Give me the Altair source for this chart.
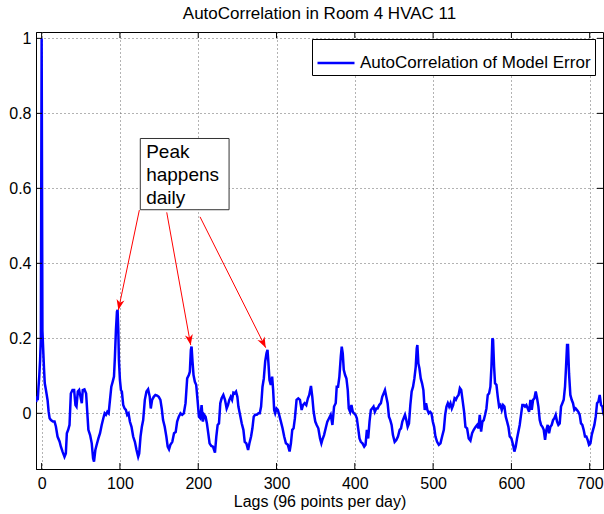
import math
import altair as alt
import pandas as pd

FONT = "Liberation Sans"

# ---- data ----
lags = [
    -7, -6, -5, -4, -3, -2, -1, 0, 1, 2, 3, 4, 5.5, 7.6, 8.9, 10.2, 11.9, 14.4, 16.5, 18.2,
    20.3, 22.9, 24.6, 26.7, 29.2, 30.9, 32.2, 33.9, 35.6, 37.3, 39.4, 41.5, 43.2, 44.5, 46.2,
    47.9, 49.6, 51.3, 52.5, 54.7, 56.8, 58.1, 59.7, 61.9, 64.0, 65.7, 66.9, 68.6, 70.3, 72.5,
    74.6, 76.7, 78.8, 80.5, 82.2, 83.9, 85.6, 87.3, 89.0, 90.7, 92.4, 93.6, 94.9, 96.2, 97.0,
    97.9, 98.7, 100.0, 101.3, 102.5, 104.2, 105.9, 107.6, 109.3, 111.0, 112.7, 114.8, 116.9,
    119.1, 121.2, 123.3, 124.6, 126.3, 128.0, 129.7, 131.8, 133.9, 136.0, 138.1, 139.4, 141.1,
    143.2, 145.3, 147.5, 149.6, 151.7, 153.4, 155.1, 157.2, 159.3, 161.0, 162.7, 164.4, 166.9,
    169.1, 171.2, 173.1, 175.2,
    177.4, 179.5, 181.6, 183.8, 185.9, 188.0, 189.3, 190.6, 191.5, 192.7, 194.0, 195.7, 197.4,
    199.1, 200.9, 202.6, 204.3, 206.0, 207.7, 209.4, 211.1, 212.8, 214.5, 216.7, 218.8, 221.4,
    223.1, 224.8, 226.5, 228.2, 229.9, 232.1, 234.2, 236.3, 238.0, 239.7, 241.5, 243.2, 244.9,
    246.6, 248.3, 250.0, 251.3, 253.4, 255.6, 257.7, 259.4, 261.5, 263.7, 265.4, 267.5, 269.2,
    270.9, 272.6, 274.8, 276.9, 278.6, 280.3, 282.1, 283.8, 285.5, 287.2, 288.5, 289.7, 291.0,
    292.7, 294.4, 295.7, 297.0, 298.3, 300.0, 301.7, 303.4, 305.6, 307.7, 309.8, 312.0, 314.5,
    316.7, 318.4, 320.1, 321.8, 323.5, 325.6, 327.8, 329.9, 332.1, 333.8, 335.9, 338.0, 340.1,
    341.8, 344.0, 345.7, 347.4, 349.5, 351.3, 353.4,
    355.6, 357.3, 358.5, 360.7, 362.8, 364.9, 367.1, 369.2, 371.4, 373.5, 375.6, 376.9, 378.6,
    380.3, 382.1, 383.3, 384.6, 385.9, 387.6, 389.3, 391.0, 392.3, 394.0, 395.7, 397.4, 399.1,
    400.9, 402.6, 404.3, 406.0, 407.7, 409.8, 412.0, 413.7, 415.4, 417.1, 418.8, 420.5, 422.2,
    423.9, 425.6, 427.4, 429.1, 431.2, 433.3, 435.0, 436.8, 438.5, 440.2, 441.9, 443.6, 445.3,
    447.0, 448.7, 450.9, 453.0, 455.1, 457.3, 459.0, 460.7, 462.4, 464.1, 465.8, 467.5, 469.2,
    470.9, 472.6, 474.4, 476.1, 477.8, 479.1, 479.9, 481.2, 482.5, 484.2, 485.9, 487.6, 489.3,
    491.0, 492.7, 494.4, 496.2, 497.9, 499.6, 501.3, 503.0, 505.1, 507.3, 509.4, 511.5, 513.7,
    515.4, 517.1, 518.8, 520.5, 522.2, 523.9, 525.6, 527.4, 529.1, 530.8, 532.5, 534.2, 535.9,
    537.6, 539.6,
    541.3, 543.4, 545.5, 547.7, 549.8, 551.9, 554.0, 556.2, 557.9, 559.6, 561.3, 563.0, 564.7,
    566.4, 568.1, 569.8, 571.5, 573.2, 574.5, 575.7, 576.6, 577.9, 579.1, 580.9, 582.6, 584.3,
    586.0, 587.7, 589.4, 591.1, 592.8, 594.5, 596.2, 597.9, 600.0, 602.1, 603.8, 605.5, 607.2,
    608.9, 610.6, 612.3, 614.0, 615.7, 617.4, 619.1, 620.9, 622.6, 624.3, 626.0, 627.7, 629.4,
    631.1, 632.8, 634.5, 636.2, 637.9, 639.6, 641.3, 643.0, 644.7, 646.4, 648.1, 649.8, 651.5,
    653.2, 654.9, 656.6, 658.3, 660.0, 661.7, 663.4, 665.1, 666.8, 668.5, 669.8, 671.1, 672.3,
    673.6, 675.3, 677.0, 678.7, 680.4, 682.1, 683.8, 685.5, 687.2, 688.9, 690.6, 692.3, 694.0,
    695.7, 697.4, 699.1, 700.9, 702.6, 704.3, 706.0, 707.7, 709.4, 711.1, 712.8, 714.5, 716.2,
    717.4, 719.0,
]
acf = [
    0.03, 0.045, 0.035, 0.07, 0.1, 0.14, 0.2, 1.0, 0.22, 0.17, 0.12, 0.08, 0.062, 0.035, 0.005,
    -0.013, -0.018, -0.022, -0.022, -0.035, -0.062, -0.075, -0.089, -0.102, -0.116, -0.107,
    -0.053, -0.044, -0.031, 0.053, 0.062, 0.062, 0.022, 0.018, 0.058, 0.062, 0.044, 0.027,
    0.062, 0.064, 0.053, 0.009, -0.044, -0.058, -0.08, -0.12, -0.129, -0.098, -0.084, -0.067,
    -0.053, -0.031, -0.013, 0.0, -0.004, 0.004, 0.0, 0.036, 0.071, 0.084, 0.098, 0.151, 0.222,
    0.271, 0.276, 0.222, 0.142, 0.089, 0.062, 0.058, 0.022, 0.013, 0.009, -0.004, 0.0, -0.022,
    -0.036, -0.062, -0.076, -0.098, -0.116, -0.107, -0.062, -0.036, -0.018, 0.036, 0.058,
    0.064, 0.044, 0.013, 0.036, 0.044, 0.049, 0.047, 0.044, 0.036, 0.013, -0.018, -0.036,
    -0.062, -0.089, -0.096, -0.084, -0.076, -0.053, -0.05, -0.022, -0.009,
    0.0, -0.004, 0.0, 0.027, 0.093, 0.102, 0.111, 0.169, 0.178, 0.138, 0.102, 0.084, 0.076,
    0.036, -0.009, -0.013, 0.022, -0.022, -0.004, -0.009, -0.027, -0.053, -0.08, -0.087,
    -0.089, -0.105, -0.062, -0.031, -0.027, 0.027, 0.04, 0.049, 0.036, 0.013, 0.022, 0.036,
    0.044, 0.036, 0.055, 0.053, 0.058, 0.044, 0.018, -0.004, -0.027, -0.044, -0.076, -0.08,
    -0.098, -0.08, -0.062, -0.04, -0.009, -0.004, -0.004, 0.0, 0.0, 0.018, 0.071, 0.093,
    0.138, 0.16, 0.169, 0.133, 0.089, 0.076, 0.098, 0.062, 0.009, 0.0, 0.013, 0.009, -0.004,
    -0.022, -0.04, -0.062, -0.08, -0.084, -0.102, -0.08, -0.044, -0.04, -0.013, 0.036, 0.04,
    0.036, 0.009, 0.022, 0.027, 0.022, 0.04, 0.049, 0.073, 0.044, 0.004, -0.022, -0.031, -0.04,
    -0.067, -0.08, -0.071, -0.058, -0.04, -0.022, -0.013, -0.004, -0.031, 0.018, 0.027, 0.071,
    0.071, 0.098, 0.151, 0.178, 0.16, 0.116, 0.102, 0.093, 0.062, 0.013, 0.004, 0.022, 0.004,
    0.0, -0.004, -0.013, -0.04, -0.067, -0.076, -0.08, -0.089, -0.084, -0.044, -0.067, -0.022,
    0.009, 0.013, 0.018, 0.004, 0.013, 0.013, 0.022, 0.027, 0.044, 0.053, 0.062, 0.044, 0.027,
    -0.009, -0.018, -0.031, -0.058, -0.076, -0.071, -0.062, -0.044, -0.04, -0.022, -0.013,
    -0.004, -0.018, -0.036, -0.027, 0.022, 0.058, 0.071, 0.093, 0.124, 0.173, 0.182, 0.133,
    0.12, 0.093, 0.08, 0.062, 0.009, 0.027, 0.009, 0.0, 0.004, 0.0, -0.022, -0.036, -0.062,
    -0.076, -0.084, -0.08, -0.062, -0.044, -0.004, 0.018, 0.027, 0.018, 0.027, 0.013, 0.022,
    0.04, 0.036, 0.044, 0.049, 0.067, 0.062, 0.036, 0.004,
    -0.036, -0.04, -0.067, -0.073, -0.053, -0.044, -0.037, -0.031, -0.04, -0.004, -0.049,
    -0.022, -0.018, -0.004, 0.013, 0.049, 0.053, 0.071, 0.124, 0.2, 0.196, 0.124, 0.08, 0.076,
    0.044, 0.018, 0.022, 0.009, 0.022, 0.018, -0.009, -0.022, -0.036, -0.062, -0.067, -0.084,
    -0.102, -0.089, -0.067, -0.049, -0.031, -0.004, 0.022, 0.022, 0.018, 0.022, 0.013, 0.004,
    0.036, 0.009, 0.036, 0.04, 0.058, 0.04, 0.018, -0.018, -0.031, -0.036, -0.044, -0.071,
    -0.044, -0.031, -0.053, -0.036, -0.031, -0.018, -0.013, -0.004, -0.022, -0.031, -0.027,
    0.018, 0.027, 0.036, 0.071, 0.124, 0.182, 0.182, 0.107, 0.049, 0.036, 0.027, 0.009, 0.013,
    0.009, 0.004, -0.004, -0.027, -0.031, -0.044, -0.062, -0.062, -0.071, -0.084, -0.08,
    -0.058, -0.044, -0.031, -0.009, 0.027, 0.031, 0.049, 0.022, 0.018, 0.0, -0.01,
]
series_name = "AutoCorrelation of Model Error"
chart_title = "AutoCorrelation in Room 4 HVAC 11"
x_title = "Lags (96 points per day)"
x_ticks = [0, 100, 200, 300, 400, 500, 600, 700]
y_ticks = [0, 0.2, 0.4, 0.6, 0.8, 1.0]

# annotation (data coordinates)
note_text = "Peak\nhappens\ndaily"
note_x = [126.0]
note_x2 = [239.4]
note_y = [0.733]
note_y2 = [0.543]
note_text_x = [133.5]
note_text_y = [0.722]
arrow_x0 = [124.8, 159.8, 202.3]
arrow_y0 = [0.542, 0.536, 0.524]
arrow_x1 = [98.0, 190.4, 286.2]
arrow_y1 = [0.2755, 0.182, 0.175]

X_DOMAIN = [-7.2, 717.0]
Y_DOMAIN = [-0.1485, 1.017]
W, H = 567, 437
TICK = 6

xs = alt.Scale(domain=X_DOMAIN, nice=False, zero=False)
ys = alt.Scale(domain=Y_DOMAIN, nice=False, zero=False)

ax_common = dict(grid=True, gridDash=[1, 3], gridColor="#666", gridWidth=1, ticks=False,
                 format="~r", labelFont=FONT, labelFontSize=16, labelColor="black",
                 titleFont=FONT, titleFontSize=16, titleFontWeight="normal",
                 titleColor="black", domainColor="black", domainWidth=1)
ax_x = alt.Axis(values=x_ticks, labelPadding=6, title=x_title, titlePadding=2, **ax_common)
ax_y = alt.Axis(values=y_ticks, labelPadding=5, title=None, **ax_common)

df = pd.DataFrame({"lag": lags, "acf": acf, "series": series_name})

line = alt.Chart(df).mark_line(color="#0000ff", strokeWidth=2.5, clip=True).encode(
    x=alt.X("lag:Q", scale=xs, axis=ax_x),
    y=alt.Y("acf:Q", scale=ys, axis=ax_y),
    color=alt.Color("series:N", scale=alt.Scale(range=["#0000ff"]),
                    legend=alt.Legend(title=None, orient="none", legendX=276, legendY=7,
                                      strokeColor="black", fillColor="white", padding=4,
                                      symbolType="stroke", symbolStrokeWidth=2.5,
                                      symbolSize=1369, labelFontSize=17, labelFont=FONT,
                                      labelLimit=0, labelOffset=4, labelColor="black")),
)

xt = pd.DataFrame({"t": x_ticks})
yt = pd.DataFrame({"t": y_ticks})
rule_style = dict(color="black", strokeWidth=1)
bottom_ticks = alt.Chart(xt).mark_rule(**rule_style).encode(
    x=alt.X("t:Q", scale=xs, axis=ax_x), y=alt.value(H), y2=alt.value(H - TICK))
top_ticks = alt.Chart(xt).mark_rule(**rule_style).encode(
    x=alt.X("t:Q", scale=xs, axis=ax_x), y=alt.value(0), y2=alt.value(TICK))
left_ticks = alt.Chart(yt).mark_rule(**rule_style).encode(
    y=alt.Y("t:Q", scale=ys, axis=ax_y), x=alt.value(0), x2=alt.value(TICK))
right_ticks = alt.Chart(yt).mark_rule(**rule_style).encode(
    y=alt.Y("t:Q", scale=ys, axis=ax_y), x=alt.value(W), x2=alt.value(W - TICK))

box_df = pd.DataFrame({"x": note_x, "x2": note_x2, "y": note_y, "y2": note_y2})
note_box = alt.Chart(box_df).mark_rect(fill="white", stroke="#333", strokeWidth=1).encode(
    x=alt.X("x:Q", scale=xs, axis=ax_x), x2="x2:Q",
    y=alt.Y("y:Q", scale=ys, axis=ax_y), y2="y2:Q")
text_df = pd.DataFrame({"x": note_text_x, "y": note_text_y, "label": [note_text]})
note_label = alt.Chart(text_df).mark_text(
    align="left", baseline="top", fontSize=19, font=FONT, lineHeight=23,
    lineBreak="\n", color="black").encode(
    x=alt.X("x:Q", scale=xs, axis=ax_x), y=alt.Y("y:Q", scale=ys, axis=ax_y), text="label:N")

sx = W / (X_DOMAIN[1] - X_DOMAIN[0])
sy = H / (Y_DOMAIN[1] - Y_DOMAIN[0])
angles = []
for a0, b0, a1, b1 in zip(arrow_x0, arrow_y0, arrow_x1, arrow_y1):
    dx = (a1 - a0) * sx
    dy = -(b1 - b0) * sy
    angles.append(math.degrees(math.atan2(dx, -dy)) % 360)
arr_df = pd.DataFrame({"x0": arrow_x0, "y0": arrow_y0, "x1": arrow_x1, "y1": arrow_y1,
                       "ang": angles})
arrow_lines = alt.Chart(arr_df).mark_rule(color="#ff0000", strokeWidth=1).encode(
    x=alt.X("x0:Q", scale=xs, axis=ax_x), x2="x1:Q",
    y=alt.Y("y0:Q", scale=ys, axis=ax_y), y2="y1:Q")
arrow_heads = alt.Chart(arr_df).mark_point(
    shape="M0,0 L0.38,1 L0,0.72 L-0.38,1 Z", filled=True, color="#ff0000", opacity=1,
    size=440, strokeWidth=0).encode(
    x=alt.X("x1:Q", scale=xs, axis=ax_x), y=alt.Y("y1:Q", scale=ys, axis=ax_y),
    angle=alt.Angle("ang:Q", scale=None))

chart = alt.layer(
    line, bottom_ticks, top_ticks, left_ticks, right_ticks,
    note_box, note_label, arrow_lines, arrow_heads,
).properties(
    width=W, height=H,
    title=alt.TitleParams(chart_title, fontSize=17, font=FONT, fontWeight="normal",
                          color="black", anchor="middle", offset=7),
    autosize=alt.AutoSizeParams(type="none"),
    padding={"left": 36, "top": 32, "right": 1, "bottom": 45},
    background="white",
).configure_view(stroke="black", strokeWidth=1)

chart.save("out.html", embed_options={"renderer": "svg", "actions": False})
